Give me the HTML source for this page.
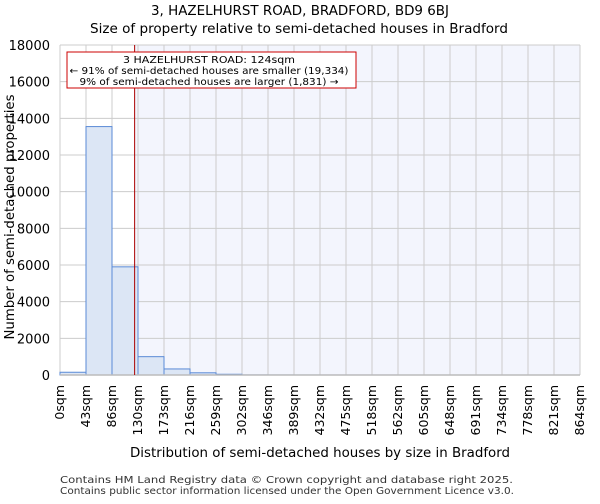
<!DOCTYPE html>
<html><head><meta charset="utf-8"><style>
body{margin:0;background:#fff;font-family:"DejaVu Sans","Liberation Sans",sans-serif;}
</style></head><body>
<svg width="600" height="500" xmlns="http://www.w3.org/2000/svg" font-family="DejaVu Sans, Liberation Sans, sans-serif">
<text x="300" y="15" text-anchor="middle" font-size="13" textLength="298" lengthAdjust="spacingAndGlyphs">3, HAZELHURST ROAD, BRADFORD, BD9 6BJ</text>
<text x="299" y="33" text-anchor="middle" font-size="13" textLength="418" lengthAdjust="spacingAndGlyphs">Size of property relative to semi-detached houses in Bradford</text>
<g id="plot"></g>
<text x="320" y="457" text-anchor="middle" font-size="13" textLength="380" lengthAdjust="spacingAndGlyphs">Distribution of semi-detached houses by size in Bradford</text>
<text transform="translate(14,217) rotate(-90)" text-anchor="middle" font-size="13" textLength="245" lengthAdjust="spacingAndGlyphs">Number of semi-detached properties</text>
<text x="60" y="483" font-size="10" fill="#333" textLength="453" lengthAdjust="spacingAndGlyphs">Contains HM Land Registry data © Crown copyright and database right 2025.</text>
<text x="60" y="494" font-size="10" fill="#333" textLength="454" lengthAdjust="spacingAndGlyphs">Contains public sector information licensed under the Open Government Licence v3.0.</text>
</svg>
<script>
const tickLabels=["0sqm","43sqm","86sqm","130sqm","173sqm","216sqm","259sqm","302sqm","346sqm","389sqm","432sqm","475sqm","518sqm","562sqm","605sqm","648sqm","691sqm","734sqm","778sqm","821sqm","864sqm"];
const counts=[150,13550,5900,1000,330,120,40,5,3,2,1,1,1,0,0,0,0,0,0,0];
const yTicks=[0,2000,4000,6000,8000,10000,12000,14000,16000,18000];
const propertySize=124;
const binWidth=43.2;
const X0=60,X1=580,Y0=375,Y1=45,YMAX=18000;
const ns="http://www.w3.org/2000/svg";
const g=document.getElementById('plot');
function xs(v){return X0+(v/(binWidth*counts.length))*(X1-X0);}
function ys(v){return Y0-(v/YMAX)*(Y0-Y1);}
function mk(t,a,parent){const e=document.createElementNS(ns,t);for(const k in a)e.setAttribute(k,a[k]);(parent||g).appendChild(e);return e;}
let r=mk('rect',{x:xs(propertySize),y:Y1,width:X1-xs(propertySize),height:Y0-Y1,fill:'#f3f5fd'});


for(let i=0;i<tickLabels.length;i++){const x=xs(i*binWidth);
 let l=mk('line',{x1:x,x2:x,y1:Y1,y2:Y0,stroke:'#ccc','stroke-width':1});
 
 
 let t=mk('text',{transform:`translate(${x+4},${Y0+10}) rotate(-90)`,'text-anchor':'end','font-size':12.5});
 t.textContent=tickLabels[i];
 
 
}
yTicks.forEach(v=>{const y=ys(v);
 let l=mk('line',{x1:X0,x2:X1,y1:y,y2:y,stroke:'#ccc','stroke-width':1});
 
 
 let t=mk('text',{x:X0-10,y:y+5,'text-anchor':'end','font-size':13});
 t.textContent=v;
 
 
});
counts.forEach((c,i)=>{if(c<=0)return;
 let b=mk('rect',{x:xs(i*binWidth),y:ys(c),width:xs(binWidth)-xs(0),height:Y0-ys(c),fill:'#dce6f5',stroke:'#5a8ad6','stroke-width':1});
 
 
});
let ax=mk('line',{x1:X0,x2:X1,y1:Y0,y2:Y0,stroke:'#bbb','stroke-width':1.5});


let pl=mk('line',{x1:xs(propertySize),x2:xs(propertySize),y1:Y1,y2:Y0,stroke:'#a00','stroke-width':1});


let box=mk('rect',{x:67,y:52,width:289,height:36,fill:'#fff',stroke:'#c00','stroke-width':1});


[["3 HAZELHURST ROAD: 124sqm",63,172],["← 91% of semi-detached houses are smaller (19,334)",74,279],["9% of semi-detached houses are larger (1,831) →",85,259]].forEach((a,i)=>{
 let t=mk('text',{x:209,y:a[1],'text-anchor':'middle','font-size':10,textLength:a[2],lengthAdjust:'spacingAndGlyphs'});t.textContent=a[0];
 
 
});
</script>
</body></html>
